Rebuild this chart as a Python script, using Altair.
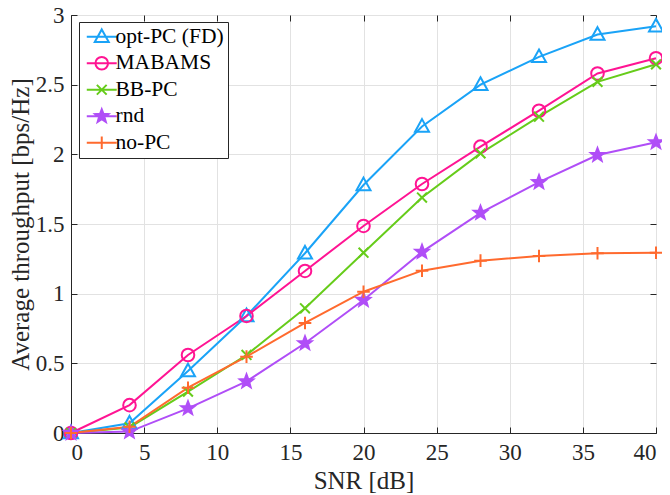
import math
import altair as alt
import pandas as pd

# ---------------- data ----------------
snr = [0, 4, 8, 12, 16, 20, 24, 28, 32, 36, 40]
series_names = ["opt-PC (FD)", "MABAMS", "BB-PC", "rnd", "no-PC"]
opt_pc = [0.0, 0.07, 0.445, 0.84, 1.29, 1.78, 2.20, 2.50, 2.70, 2.86, 2.92]
mabams = [0.0, 0.20, 0.56, 0.84, 1.163, 1.486, 1.787, 2.055, 2.313, 2.58, 2.69]
bb_pc = [0.0, 0.04, 0.297, 0.56, 0.895, 1.294, 1.69, 2.007, 2.27, 2.52, 2.646]
rnd = [0.0, 0.01, 0.177, 0.37, 0.644, 0.955, 1.30, 1.58, 1.80, 1.995, 2.086]
no_pc = [0.0, 0.045, 0.325, 0.548, 0.79, 1.014, 1.165, 1.237, 1.27, 1.29, 1.294]
x_ticks = [0, 5, 10, 15, 20, 25, 30, 35, 40]
y_ticks = [0, 0.5, 1, 1.5, 2, 2.5, 3]

series_values = [opt_pc, mabams, bb_pc, rnd, no_pc]
rows = []
for name, vals in zip(series_names, series_values):
    for xv, yv in zip(snr, vals):
        rows.append({"snr": xv, "thr": yv, "series": name})
df = pd.DataFrame(rows)

# ---------------- styles ----------------
colors = ["#1aa3f7", "#ff1493", "#66cc1a", "#b04ef7", "#ff6a2e"]
fills = ["transparent", "transparent", "transparent", "#b04ef7", "transparent"]

star_pts = []
for k in range(10):
    a = math.radians(-90 + 36 * k)
    r = 1.0 if k % 2 == 0 else 0.42
    star_pts.append(f"{r*math.cos(a):.3f},{r*math.sin(a):.3f}")
star = "M" + "L".join(star_pts) + "Z"
tri = "M0,-1.05L1,0.75L-1,0.75Z"
circ = "M0.9,0A0.9,0.9,0,1,1,-0.9,0A0.9,0.9,0,1,1,0.9,0Z"
xm = "M-0.7,-0.7L0.7,0.7M-0.7,0.7L0.7,-0.7"
plus = "M-0.9,0L0.9,0M0,-0.9L0,0.9"
shapes = [tri, circ, xm, star, plus]
line_seg = "M-2.14,0L2.14,0"
legend_shapes = [line_seg + s for s in shapes]

FONT = "Liberation Serif"
INK = "#262626"

legend = alt.Legend(
    title=None, orient="none", legendX=8, legendY=7,
    padding=4, strokeColor=INK, fillColor="white", cornerRadius=0,
    labelFont=FONT, labelFontSize=21.5, labelColor="black",
    symbolSize=196, symbolStrokeWidth=2, symbolOpacity=1, rowPadding=3.5,
    symbolOffset=8, labelOffset=3, labelLimit=300,
)

xs = alt.Scale(domain=[0, 40], nice=False)
ys = alt.Scale(domain=[0, 3], nice=False)

def col(lg):
    return alt.Color("series:N", scale=alt.Scale(domain=series_names, range=colors), legend=lg)

def fil(lg):
    return alt.Fill("series:N", scale=alt.Scale(domain=series_names, range=fills), legend=lg)

main_x = alt.Axis(values=x_ticks, format="~g", grid=True, gridColor="#e2e2e2", ticks=False,
                  domain=True, domainColor=INK, labelFont=FONT, labelFontSize=23,
                  labelColor=INK, labelPadding=8, title="SNR [dB]", titleFont=FONT,
                  titleFontSize=25, titleFontWeight="normal", titleColor=INK,
                  titleBaseline="alphabetic", titleY=55, orient="bottom")
main_y = alt.Axis(values=y_ticks, format="~g", grid=True, gridColor="#e2e2e2", ticks=False,
                  domain=True, domainColor=INK, labelFont=FONT, labelFontSize=23,
                  labelColor=INK, labelPadding=7, title="Average throughput [bps/Hz]",
                  titleFont=FONT, titleFontSize=25, titleFontWeight="normal",
                  titleColor=INK, titlePadding=2, orient="left")

def tick_axis(values, orient):
    return alt.Axis(values=values, orient=orient, offset=-6, tickSize=6, tickColor=INK,
                    tickWidth=1, labels=False, domain=False, grid=False, title=None)

lines = alt.Chart(df).mark_line(strokeWidth=2).encode(
    x=alt.X("snr:Q", scale=xs, axis=main_x),
    y=alt.Y("thr:Q", scale=ys, axis=main_y),
    color=col(None),
)
points = alt.Chart(df).mark_point(size=196, strokeWidth=2, opacity=1).encode(
    x=alt.X("snr:Q", scale=xs, axis=tick_axis(x_ticks, "bottom")),
    y=alt.Y("thr:Q", scale=ys, axis=tick_axis(y_ticks, "left")),
    color=col(None),
    shape=alt.Shape("series:N", scale=alt.Scale(domain=series_names, range=shapes), legend=None),
    fill=fil(None),
)
ghost = alt.Chart(df).mark_point(opacity=0, strokeWidth=2).encode(
    x=alt.X("snr:Q", scale=xs, axis=tick_axis(x_ticks, "top")),
    y=alt.Y("thr:Q", scale=ys, axis=tick_axis(y_ticks, "right")),
    color=col(legend),
    shape=alt.Shape("series:N", scale=alt.Scale(domain=series_names, range=legend_shapes), legend=legend),
    fill=fil(legend),
)

chart = alt.layer(lines, points, ghost).resolve_axis(
    x="independent", y="independent"
).resolve_scale(
    color="independent", fill="independent", shape="independent"
).properties(
    width=585, height=418,
    autosize=alt.AutoSizeParams(type="none"),
    padding={"left": 63, "top": 7, "right": 6, "bottom": 62},
).configure(
    font=FONT
).configure_view(
    stroke=INK, strokeWidth=1
).configure_axis(
    labelFont=FONT, titleFont=FONT
)

chart.save("out.html", embed_options={"renderer": "svg", "actions": False})
